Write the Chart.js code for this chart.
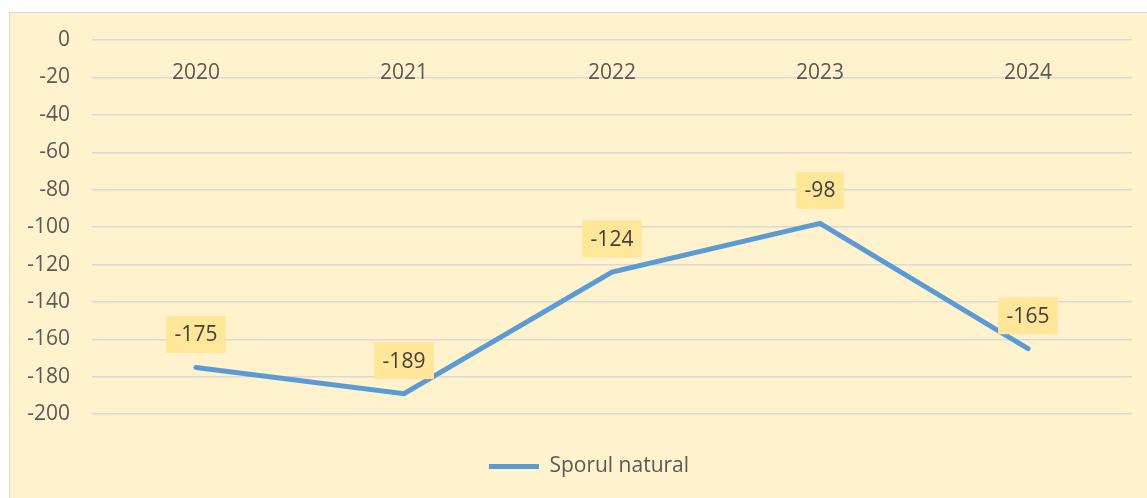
<!DOCTYPE html>
<html>
<head>
<meta charset="utf-8">
<script src="https://cdn.jsdelivr.net/npm/chart.js@4/dist/chart.umd.min.js"></script>
<style>
  body { margin: 0; background: #fff; }
  .frame {
    position: absolute;
    left: 9px;
    top: 12px;
    width: 1150px;
    height: 490px;
    background: #FFF2CC;
    border: 1px solid #D9D9D9;
  }
  canvas { display: block; }
</style>
</head>
<body>
<div class="frame">
  <canvas id="sporChart" width="1150" height="490"></canvas>
</div>
<script>
const years = ['2020', '2021', '2022', '2023', '2024'];
const sporNatural = [-175, -189, -124, -98, -165];
const yTicks = [0, -20, -40, -60, -80, -100, -120, -140, -160, -180, -200];

const fontFamily = "'Open Sans', sans-serif";

/* value boxes above the points */
const valueLabels = {
    id: 'valueLabels',
    afterDatasetsDraw(chart) {
        const ctx = chart.ctx;
        const meta = chart.getDatasetMeta(0);
        ctx.save();
        ctx.font = '21px ' + fontFamily;
        ctx.textAlign = 'center';
        ctx.textBaseline = 'middle';
        meta.data.forEach((pt, i) => {
            const txt = String(chart.data.datasets[0].data[i]);
            const w = ctx.measureText(txt).width + 17;
            const h = 37;
            const cy = pt.y - 33;
            ctx.fillStyle = '#FFE699';
            ctx.fillRect(pt.x - w / 2, cy - h / 2, w, h);
            ctx.fillStyle = '#404040';
            ctx.fillText(txt, pt.x, cy + 1);
        });
        ctx.restore();
    }
};

new Chart(document.getElementById('sporChart'), {
    type: 'line',
    data: {
        labels: years,
        datasets: [{
            label: 'Sporul natural',
            data: sporNatural,
            borderColor: '#5B9BD5',
            backgroundColor: '#5B9BD5',
            borderWidth: 5,
            borderCapStyle: 'round',
            pointRadius: 0,
            pointHoverRadius: 0,
            tension: 0
        }]
    },
    options: {
        responsive: false,
        animation: false,
        layout: {
            padding: { left: 10, top: 27, right: 2, bottom: 16 }
        },
        scales: {
            x: {
                position: { y: 0 },
                offset: true,
                grid: { display: false, drawTicks: false },
                border: { display: false },
                ticks: {
                    color: '#595959',
                    font: { family: fontFamily, size: 21 },
                    padding: 20
                }
            },
            y: {
                min: -217,
                max: 0,
                afterBuildTicks: (s) => { s.ticks = yTicks.map(v => ({ value: v })); },
                grid: { color: '#D9D9D9', lineWidth: 1.5, drawTicks: false },
                border: { display: false },
                ticks: {
                    color: '#595959',
                    font: { family: fontFamily, size: 21 },
                    padding: 22
                },
                afterFit: (s) => {
                    s.width = 72;
                    s.paddingTop = 0;
                    s.paddingBottom = 0;
                }
            },
            // empty strip on the right, keeps the plot narrower than the legend box
            yRight: {
                type: 'linear',
                position: 'right',
                grid: { display: false, drawTicks: false },
                border: { display: false },
                ticks: { display: false },
                afterFit: (s) => {
                    s.width = 26;
                    s.paddingTop = 0;
                    s.paddingBottom = 0;
                }
            }
        },
        plugins: {
            legend: {
                position: 'bottom',
                labels: {
                    usePointStyle: true,
                    pointStyle: 'line',
                    pointStyleWidth: 50,
                    color: '#595959',
                    font: { family: fontFamily, size: 21 },
                    padding: 10
                }
            },
            tooltip: { enabled: false }
        }
    },
    plugins: [valueLabels]
});
</script>
</body>
</html>
